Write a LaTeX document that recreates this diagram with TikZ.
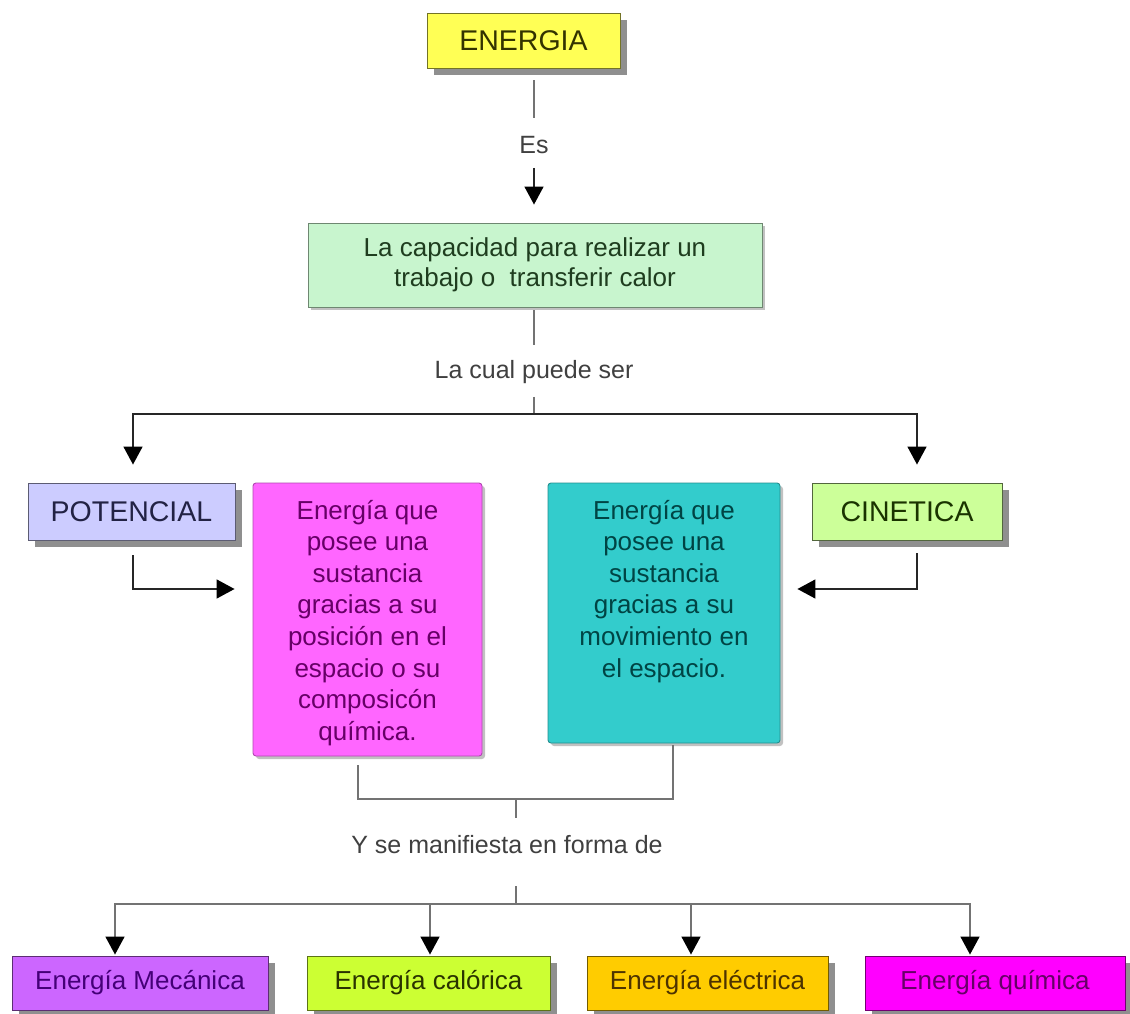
\documentclass[tikz,border=0pt]{standalone}
\usepackage{fontspec}
\setmainfont{Liberation Sans}
\usetikzlibrary{arrows.meta,shadows,calc}
\definecolor{cEnergia}{HTML}{FFFF55}\definecolor{tEnergia}{HTML}{333300}
\definecolor{cGreen}{HTML}{C8F5CE}\definecolor{tGreen}{HTML}{1F3D1F}
\definecolor{cPot}{HTML}{CCCCFF}\definecolor{tPot}{HTML}{222244}
\definecolor{cPink}{HTML}{FF66FF}\definecolor{tPink}{HTML}{660066}
\definecolor{cTeal}{HTML}{33CCCC}\definecolor{tTeal}{HTML}{004444}
\definecolor{cCin}{HTML}{CCFF99}\definecolor{tCin}{HTML}{1A3300}
\definecolor{cMec}{HTML}{CC66FF}\definecolor{tMec}{HTML}{440077}
\definecolor{cCal}{HTML}{CCFF33}\definecolor{tCal}{HTML}{2A3300}
\definecolor{cEle}{HTML}{FFCC00}\definecolor{tEle}{HTML}{4D3300}
\definecolor{cQui}{HTML}{FF00FF}\definecolor{tQui}{HTML}{660066}
\begin{document}
\begin{tikzpicture}[x=1pt,y=-1pt,
  box/.style={draw, line width=0.9pt, inner sep=0pt, align=center},
  shad/.style={drop shadow={shadow xshift=7pt,shadow yshift=-7pt,fill=black!55,opacity=0.8}},
  soft/.style={drop shadow={shadow xshift=3pt,shadow yshift=-3pt,fill=black!40,opacity=0.6}},
  big/.style={font=\fontsize{28.5}{32}\selectfont},
  body/.style={font=\fontsize{26}{31.6}\selectfont},
  lbl/.style={inner sep=0pt, font=\fontsize{25}{30}\selectfont, text=black!75},
  gline/.style={draw=black!55, line width=1.6pt},
  aline/.style={draw=black!85, line width=1.6pt, -{Triangle[width=19pt,length=18pt,color=black]}},
  galine/.style={gline, -{Triangle[width=19pt,length=18pt,color=black]}},
]
\fill[white] (0,0) rectangle (1130,1014);
\useasboundingbox (0,0) rectangle (1130,1014);

% top
\node[box, shad, big, fill=cEnergia, draw=cEnergia!45!black, text=tEnergia,
      minimum width=193pt, minimum height=55pt] (energia) at (523.5,40.5) {ENERGIA};
\node[lbl] (es) at (534,145) {Es};
\node[box, soft, fill=cGreen, draw=cGreen!55!black, text=tGreen,
      font=\fontsize{26}{30}\selectfont,
      minimum width=454pt, minimum height=84pt] (green) at (535,265)
      {La capacidad para realizar un\\trabajo o\ \ transferir calor};
\node[lbl] (cual) at (534,372) {La cual puede ser};
\coordinate (j1) at (534,414);

% middle
\node[box, shad, big, fill=cPot, draw=cPot!45!black, text=tPot,
      minimum width=207pt, minimum height=57pt] (potencial) at (131.5,511.5) {POTENCIAL};
\node[box, soft, rounded corners=3pt, fill=cPink, draw=cPink!70!black, text=tPink, body] (pink) at (367.5,619.5)
  {\parbox[c][273pt][t]{229pt}{\centering\vspace*{17pt}Energía que\\posee una\\sustancia\\gracias a su\\posición en el\\espacio o su\\composicón\\química.}};
\node[box, soft, rounded corners=3pt, fill=cTeal, draw=cTeal!70!black, text=tTeal, body] (teal) at (664,613)
  {\parbox[c][260pt][t]{232pt}{\centering\vspace*{17pt}Energía que\\posee una\\sustancia\\gracias a su\\movimiento en\\el espacio.}};
\node[box, shad, big, fill=cCin, draw=cCin!40!black, text=tCin,
      minimum width=190pt, minimum height=57pt] (cinetica) at (907,511.5) {CINETICA};

\node[lbl] (yform) at (507,845) {Y se manifiesta en forma de};
\coordinate (j2) at (516,799);
\coordinate (j3) at (516,904);

% bottom
\node[box, shad, body, fill=cMec, draw=cMec!45!black, text=tMec,
      minimum width=256pt, minimum height=54pt] (mec) at (140,983) {Energía Mecánica};
\node[box, shad, body, fill=cCal, draw=cCal!45!black, text=tCal,
      minimum width=243pt, minimum height=54pt] (cal) at (428.5,983) {Energía calórica};
\node[box, shad, body, fill=cEle, draw=cEle!45!black, text=tEle,
      minimum width=241pt, minimum height=54pt] (ele) at (707.5,983) {Energía eléctrica};
\node[box, shad, body, fill=cQui, draw=cQui!45!black, text=tQui,
      minimum width=260pt, minimum height=54pt] (qui) at (995,983) {Energía química};

% connectors
\draw[gline, shorten <=12pt, shorten >=18pt] (energia.south -| es.north) -- (es.north);
\draw[aline, shorten <=14pt, shorten >=18pt] (es.south) -- (green.north -| es.south);
\draw[gline, shorten <=3pt, shorten >=15pt] (green.south -| cual.north) -- (cual.north);
\draw[gline, shorten <=13pt] (cual.south) -- (j1);
\draw[aline, shorten >=18pt] (j1) -| ([xshift=1.5pt]potencial.north);
\draw[aline, shorten >=18pt] (j1) -| ([xshift=10pt]cinetica.north);
\draw[aline, shorten <=15pt, shorten >=18pt] ([xshift=1.5pt]potencial.south) |- ([yshift=30.5pt]pink.west);
\draw[aline, shorten <=13pt, shorten >=17pt] ([xshift=10pt]cinetica.south) |- ([yshift=24pt]teal.east);
\draw[gline, shorten <=9pt] ([xshift=-9.5pt]pink.south) |- (j2);
\draw[gline, shorten <=2pt] ([xshift=9pt]teal.south) |- (j2);
\draw[gline, shorten >=17.5pt] (j2) -- (j2 |- yform.north);
\draw[gline, shorten <=32pt] (yform.south -| j3) -- (j3);
\draw[galine, shorten >=1pt] (j3) -| ([xshift=-25pt]mec.north);
\draw[galine, shorten >=1pt] (j3) -| ([xshift=1.5pt]cal.north);
\draw[galine, shorten >=1pt] (j3) -| ([xshift=-16.5pt]ele.north);
\draw[galine, shorten >=1pt] (j3) -| ([xshift=-25pt]qui.north);
\end{tikzpicture}
\end{document}
